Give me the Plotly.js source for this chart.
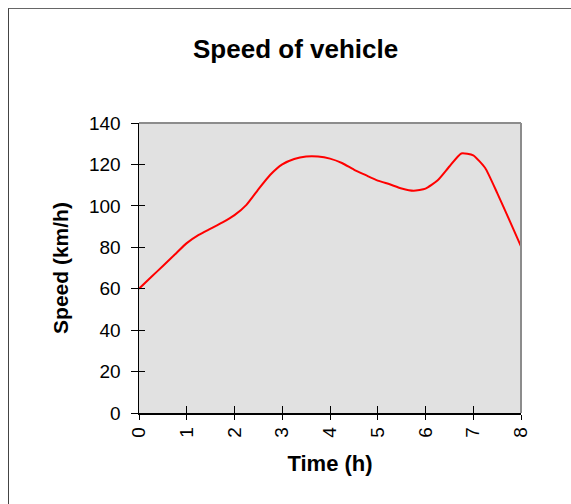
<!DOCTYPE html>
<html>
<head>
<meta charset="utf-8">
<script src="https://cdn.plot.ly/plotly-3.0.1.min.js"></script>
<style>
html,body{margin:0;padding:0;background:#fff;}
#wrap{position:relative;width:571px;height:504px;}
#chart{width:571px;height:504px;}
#frame{position:absolute;left:8px;top:8px;right:-5px;bottom:-5px;border-left:1px solid #444;border-top:1px solid #666;pointer-events:none;}
</style>
</head>
<body>
<div id="wrap"><div id="chart"></div><div id="frame"></div></div>
<script>
const timeH = [0,0.25,0.5,0.75,1,1.25,1.5,1.75,2,2.25,2.5,2.75,3,3.25,3.5,3.75,4,4.25,4.5,4.75,5,5.25,5.5,5.75,6,6.25,6.5,6.75,7,7.25,7.5,7.75,8];
const speedKmh = [60,65.5,71,76.5,82,86,89,92,95.5,100.5,108,115,120,122.6,123.8,123.8,122.8,120.7,117.5,114.8,112.2,110.4,108.4,107.3,108.3,112.2,119,125.3,124.4,118.3,106.3,93.5,80.4];
const xTicks = [0,1,2,3,4,5,6,7,8];
const yTicks = [0,20,40,60,80,100,120,140];

const F = 'Liberation Sans, Arial, sans-serif';
const data = [{
  x: timeH, y: speedKmh, type: 'scatter', mode: 'lines',
  line: {color: '#ff0000', width: 2, shape: 'spline', smoothing: 0.5},
  hoverinfo: 'skip', showlegend: false
}];
const layout = {
  width: 571, height: 504,
  margin: {l: 139, r: 49.5, t: 123.3, b: 90.7},
  paper_bgcolor: '#ffffff', plot_bgcolor: '#e1e1e1',
  font: {family: F, color: '#000'},
  title: {text: '<b>Speed of vehicle</b>', font: {family: F, size: 26, color: '#000'},
          xref: 'paper', x: 0.41, xanchor: 'center', yref: 'container', y: 0.903, yanchor: 'middle'},
  xaxis: {range: [0, 8], tickmode: 'array', tickvals: xTicks, ticktext: xTicks.map(String),
          tickangle: -90, ticks: 'outside', ticklen: 5, tickwidth: 1, tickcolor: '#000',
          showline: true, linecolor: '#000', linewidth: 1.5, showgrid: false, zeroline: false,
          tickfont: {family: F, size: 19, color: '#000'},
          title: {text: '<b>Time (h)</b>', font: {family: F, size: 22, color: '#000'}, standoff: 19}},
  yaxis: {range: [0, 140], tickmode: 'array', tickvals: yTicks, ticktext: yTicks.map(String),
          ticks: 'outside', ticklen: 7, tickwidth: 1, tickcolor: '#000', ticklabelstandoff: 6,
          showline: true, linecolor: '#000', linewidth: 1.5, showgrid: false, zeroline: false,
          tickfont: {family: F, size: 19, color: '#000'},
          title: {text: '<b>Speed (km/h)</b>', font: {family: F, size: 21, color: '#000'}, standoff: 14}},
  xaxis2: {overlaying: 'x', matches: 'x', range: [0, 8], tickmode: 'array', tickvals: xTicks,
           ticks: 'inside', ticklen: 7, tickcolor: '#000', tickwidth: 1, showticklabels: false,
           showgrid: false, zeroline: false, showline: false},
  yaxis2: {overlaying: 'y', matches: 'y', range: [0, 140], tickmode: 'array', tickvals: yTicks,
           ticks: 'inside', ticklen: 6, tickcolor: '#000', tickwidth: 1, showticklabels: false,
           showgrid: false, zeroline: false, showline: false},
  shapes: [
    {type: 'line', xref: 'paper', yref: 'paper', x0: 0, x1: 1, y0: 1, y1: 1, line: {color: '#8c8c8c', width: 2}},
    {type: 'line', xref: 'paper', yref: 'paper', x0: 1, x1: 1, y0: 0, y1: 1, line: {color: '#8c8c8c', width: 2}}
  ]
};
// invisible helper trace so the secondary tick axes are drawn
data.push({x: [0], y: [0], xaxis: 'x2', yaxis: 'y2', mode: 'markers', marker: {opacity: 0}, hoverinfo: 'skip', showlegend: false});
Plotly.newPlot('chart', data, layout, {staticPlot: true, displayModeBar: false});
</script>
</body>
</html>
